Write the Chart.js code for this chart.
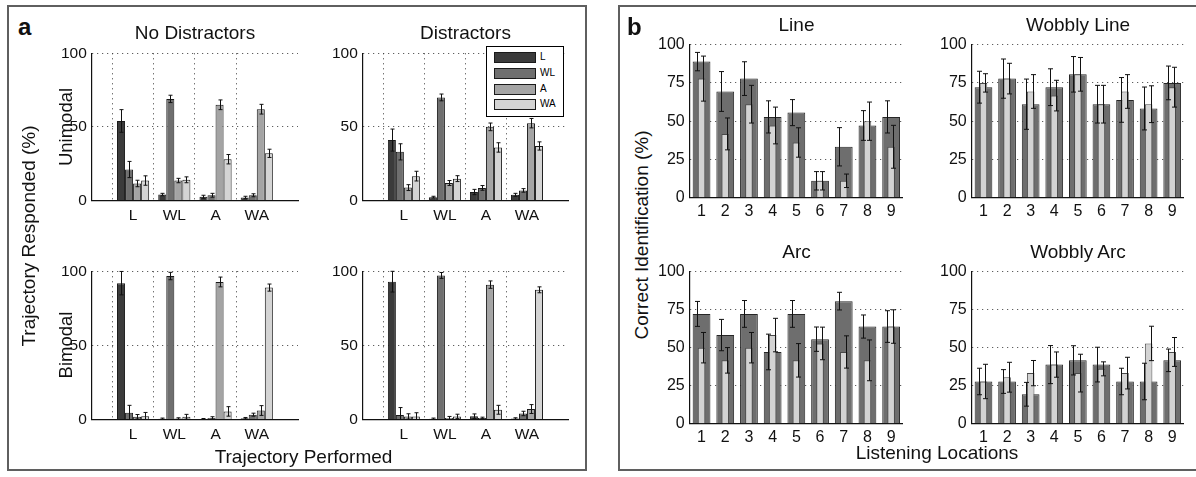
<!DOCTYPE html>
<html><head><meta charset="utf-8">
<script src="https://cdn.jsdelivr.net/npm/chart.js@4.4.1/dist/chart.umd.min.js"></script>
<style>
html,body{margin:0;padding:0;background:#fff;}
body{width:1196px;height:477px;position:relative;overflow:hidden;font-family:'Liberation Sans',Arial,sans-serif;color:#111;}
.panel{position:absolute;border:2px solid #5f5f5f;box-sizing:border-box;}
.t{position:absolute;white-space:nowrap;line-height:1;transform:translateX(-50%);}
.r{position:absolute;white-space:nowrap;line-height:1;transform:translate(-50%,-50%) rotate(-90deg);}
canvas{position:absolute;}
.legend{position:absolute;left:486px;top:46px;width:78px;height:71px;border:1.5px solid #000;background:#fff;box-sizing:border-box;z-index:5;}
.legend .sw{position:absolute;left:7px;width:42px;height:11px;border:1px solid #1a1a1a;box-sizing:border-box;}
.legend .lb{position:absolute;left:53px;font-size:10px;line-height:1;color:#000;}
</style></head><body>
<div class="panel" style="left:7px;top:5px;width:580px;height:466px;"></div>
<div class="panel" style="left:618px;top:5px;width:582px;height:466px;"></div>
<script>
// ---------------- DATA ----------------
const trajCats = ['L', 'WL', 'A', 'WA'];
// Panel a: each array = share responded as that trajectory, over performed L, WL, A, WA
// Unimodal, No Distractors
const uniNoL   = [54, 4, 2.5, 2];
const uniNoWL  = [21, 69, 3.5, 3.5];
const uniNoA   = [11.5, 13.5, 65, 62];
const uniNoWA  = [13.5, 14, 28, 32];
const uniNoLErr  = [7.7, 0.8, 1, 0.8];
const uniNoWLErr = [5.5, 2.5, 1.3, 1];
const uniNoAErr  = [2.2, 1.5, 3.3, 3.3];
const uniNoWAErr = [3.2, 2, 3.2, 2.8];
// Unimodal, Distractors
const uniDiL   = [41, 2.2, 5.7, 3.8];
const uniDiWL  = [33, 70, 8.5, 6.8];
const uniDiA   = [8.7, 11.8, 50, 52.5];
const uniDiWA  = [16.5, 14.8, 36, 37];
const uniDiLErr  = [7.5, 0.6, 1.8, 1];
const uniDiWLErr = [5.5, 2.3, 1.6, 1.2];
const uniDiAErr  = [2, 1.7, 2.6, 3.2];
const uniDiWAErr = [3.3, 2, 3.2, 2.8];
// Bimodal, No Distractors
const biNoL   = [92, 0.5, 0.3, 0.8];
const biNoWL  = [4.5, 96.8, 1, 3.2];
const biNoA   = [1.8, 0.6, 92.8, 6];
const biNoWA  = [2.2, 1.8, 5.4, 89];
const biNoLErr  = [7.9, 0.4, 0.3, 0.5];
const biNoWLErr = [5, 2.5, 0.8, 1];
const biNoAErr  = [1.5, 0.5, 3.3, 3.3];
const biNoWAErr = [2.5, 1.6, 3.2, 2.4];
// Bimodal, Distractors
const biDiL   = [93, 0.5, 2.2, 0.6];
const biDiWL  = [3, 97.2, 1, 4];
const biDiA   = [2, 1, 91, 7];
const biDiWA  = [2, 2, 6.5, 87.5];
const biDiLErr  = [7, 0.4, 1.5, 0.5];
const biDiWLErr = [5, 2, 0.5, 1.5];
const biDiAErr  = [1.8, 1, 2.5, 3];
const biDiWAErr = [2.5, 1.5, 3, 2];

// Panel b: listening locations 1..9
const locations = ['1', '2', '3', '4', '5', '6', '7', '8', '9'];
const lineDark     = [88.9, 69.4, 77.8, 52.8, 55.6, 11.1, 33.3, 47.2, 52.8];
const lineDarkErr  = [6, 13, 11, 10.5, 8.5, 6, 12.5, 9.7, 10.5];
const lineLight    = [77.8, 41.7, 61.1, 47.2, 36.1, 11.1, 11.1, 50, 33.3];
const lineLightErr = [14.7, 10.4, 12.3, 12, 9.6, 6, 4.4, 12.5, 14];
const wlDark     = [72.2, 77.8, 61.1, 72.2, 80.6, 61.1, 63.9, 58.3, 75];
const wlDarkErr  = [10.4, 12.8, 16.4, 12, 11.6, 12.3, 14.6, 14, 11];
const wlLight    = [75, 77.8, 69.4, 66.7, 80.6, 61.1, 69.4, 61.1, 72.2];
const wlLightErr = [6, 10, 11, 10, 11, 12.3, 11, 12, 13];
const arcDark     = [72.2, 58.3, 72.2, 47.2, 72.2, 55.6, 80.6, 63.9, 63.9];
const arcDarkErr  = [8.2, 10.3, 8.8, 11.7, 8.8, 8, 5.8, 7.6, 10.4];
const arcLight    = [50, 41.7, 50, 58.3, 41.7, 52.8, 47.2, 41.7, 63.9];
const arcLightErr = [10, 8.4, 10, 11, 11, 10.7, 10.6, 13.4, 11];
const waDark     = [27.8, 27.8, 19.4, 38.9, 41.7, 38.9, 27.8, 27.8, 41.7];
const waDarkErr  = [8.7, 7.8, 7.8, 12.5, 9.6, 11.4, 8.7, 12, 7.4];
const waLight    = [27.8, 30.6, 33.3, 38.9, 33.3, 36.1, 33.3, 52.8, 47.2];
const waLightErr = [11.3, 9.8, 8.3, 8.3, 12.4, 4.6, 10.4, 11.3, 9.5];

// ---------------- STYLE ----------------
const FONT = "'Liberation Sans', Arial, sans-serif";
const trajColors = ['#3b3b3b', '#6f6f6f', '#a4a4a4', '#d4d4d4'];
const GRID = '#3a3a3a';
Chart.defaults.font.family = FONT;
Chart.defaults.color = '#111';

const errPlugin = {
  id: 'errbars',
  afterDatasetsDraw(chart, args, opts) {
    const ctx = chart.ctx, xs = chart.scales.x, ys = chart.scales.y;
    const step = xs.getPixelForValue(1) - xs.getPixelForValue(0);
    const cap = opts.cap || 2;
    ctx.save();
    ctx.strokeStyle = '#111';
    ctx.lineWidth = 1;
    chart.data.datasets.forEach((ds, di) => {
      if (!ds.errors) return;
      const meta = chart.getDatasetMeta(di);
      meta.data.forEach((bar, i) => {
        const v = ds.data[i], e = ds.errors[i];
        if (v == null || e == null) return;
        const x = Math.round(bar.x + (ds.errOffset || 0) * step) + 0.5;
        const y1 = ys.getPixelForValue(Math.max(0, v - e));
        const y2 = ys.getPixelForValue(Math.min(100, v + e));
        ctx.beginPath();
        ctx.moveTo(x, y1); ctx.lineTo(x, y2);
        ctx.moveTo(x - cap, y2); ctx.lineTo(x + cap, y2);
        if (v - e > 0) { ctx.moveTo(x - cap, y1); ctx.lineTo(x + cap, y1); }
        ctx.stroke();
      });
    });
    ctx.restore();
  }
};

function cfgA(series, errs) {
  return () => ({
    type: 'bar',
    data: {
      labels: ['', ...trajCats, ''],
      datasets: series.map((s, k) => ({
        data: [null, ...s, null],
        errors: [null, ...errs[k], null],
        backgroundColor: trajColors[k],
        borderColor: '#1a1a1a',
        borderWidth: 1,
        barPercentage: 1,
        categoryPercentage: 0.78
      }))
    },
    options: {
      responsive: false, animation: false, devicePixelRatio: 1,
      layout: { padding: 0 },
      plugins: { legend: { display: false }, tooltip: { enabled: false }, errbars: { cap: 2 } },
      scales: {
        x: {
          offset: false,
          grid: { color: c => (c.index >= 1 && c.index <= 4) ? GRID : 'rgba(0,0,0,0)', drawTicks: false, lineWidth: 1 },
          border: { display: true, color: '#111', width: 1.2, dash: [1, 4] },
          ticks: { padding: 6, autoSkip: false, maxRotation: 0, minRotation: 0, color: '#111', font: { size: 15.5 } }
        },
        y: {
          min: 0, max: 100,
          grid: { color: c => c.tick.value === 0 ? 'rgba(0,0,0,0)' : GRID, drawTicks: false, lineWidth: 1 },
          border: { display: true, color: '#111', width: 1.2, dash: [1, 4] },
          ticks: { stepSize: 50, padding: 5, color: '#111', font: { size: 15.5 } }
        }
      }
    },
    plugins: [errPlugin]
  });
}

function cfgB(dark, darkErr, light, lightErr) {
  return () => ({
    type: 'bar',
    data: {
      labels: locations,
      datasets: [
        { data: light, errors: lightErr, errOffset: 0.08, backgroundColor: '#d3d3d3', borderColor: '#4a4a4a',
          borderWidth: 1, barPercentage: 0.32, categoryPercentage: 1, grouped: false, order: 0 },
        { data: dark, errors: darkErr, errOffset: -0.19, backgroundColor: '#6e6e6e', borderColor: '#262626',
          borderWidth: 1, barPercentage: 0.75, categoryPercentage: 1, grouped: false, order: 1 }
      ]
    },
    options: {
      responsive: false, animation: false, devicePixelRatio: 1,
      layout: { padding: 0 },
      plugins: { legend: { display: false }, tooltip: { enabled: false }, errbars: { cap: 2.5 } },
      scales: {
        x: {
          grid: { display: false, drawTicks: false },
          border: { display: true, color: '#111', width: 1.2 },
          ticks: { padding: 4, autoSkip: false, maxRotation: 0, minRotation: 0, color: '#111', font: { size: 16 } }
        },
        y: {
          min: 0, max: 100,
          grid: { color: c => c.tick.value === 0 ? 'rgba(0,0,0,0)' : GRID, drawTicks: false, lineWidth: 1 },
          border: { display: true, color: '#111', width: 1.2, dash: [1, 4] },
          ticks: { stepSize: 25, padding: 5, color: '#111', font: { size: 16 } }
        }
      }
    },
    plugins: [errPlugin]
  });
}

function place(area, makeCfg) {
  function build(w, h) {
    const cv = document.createElement('canvas');
    cv.width = w; cv.height = h;
    cv.style.width = w + 'px'; cv.style.height = h + 'px';
    cv.style.left = '0px'; cv.style.top = '0px';
    document.body.appendChild(cv);
    return { cv, ch: new Chart(cv, makeCfg()) };
  }
  let w = area.w + 70, h = area.h + 50;
  let r = build(w, h);
  let ca = r.ch.chartArea;
  const w2 = Math.round(w + (area.w - (ca.right - ca.left)));
  const h2 = Math.round(h + (area.h - (ca.bottom - ca.top)));
  r.ch.destroy(); r.cv.remove();
  r = build(w2, h2);
  ca = r.ch.chartArea;
  r.cv.style.left = (area.x - ca.left) + 'px';
  r.cv.style.top = (area.y - ca.top) + 'px';
}

// Panel a
place({ x: 92, y: 53, w: 206, h: 147 }, cfgA([uniNoL, uniNoWL, uniNoA, uniNoWA], [uniNoLErr, uniNoWLErr, uniNoAErr, uniNoWAErr]));
place({ x: 363, y: 53, w: 205, h: 147 }, cfgA([uniDiL, uniDiWL, uniDiA, uniDiWA], [uniDiLErr, uniDiWLErr, uniDiAErr, uniDiWAErr]));
place({ x: 92, y: 271, w: 206, h: 148 }, cfgA([biNoL, biNoWL, biNoA, biNoWA], [biNoLErr, biNoWLErr, biNoAErr, biNoWAErr]));
place({ x: 363, y: 271, w: 205, h: 148 }, cfgA([biDiL, biDiWL, biDiA, biDiWA], [biDiLErr, biDiWLErr, biDiAErr, biDiWAErr]));
// Panel b
place({ x: 690, y: 45, w: 213, h: 153 }, cfgB(lineDark, lineDarkErr, lineLight, lineLightErr));
place({ x: 972, y: 45, w: 212, h: 153 }, cfgB(wlDark, wlDarkErr, wlLight, wlLightErr));
place({ x: 690, y: 272, w: 213, h: 152 }, cfgB(arcDark, arcDarkErr, arcLight, arcLightErr));
place({ x: 972, y: 272, w: 212, h: 152 }, cfgB(waDark, waDarkErr, waLight, waLightErr));

// ---------------- TEXT ----------------
function txt(s, cx, baseline, size, bold, alignLeft) {
  const d = document.createElement('div');
  d.className = 't';
  d.textContent = s;
  d.style.fontSize = size + 'px';
  if (bold) d.style.fontWeight = 'bold';
  d.style.left = cx + 'px';
  d.style.top = (baseline - 0.8465 * size) + 'px';
  if (alignLeft) d.style.transform = 'none';
  document.body.appendChild(d);
}
function rot(s, cx, cy, size) {
  const d = document.createElement('div');
  d.className = 'r';
  d.textContent = s;
  d.style.fontSize = size + 'px';
  d.style.left = cx + 'px';
  d.style.top = cy + 'px';
  document.body.appendChild(d);
}
txt('a', 18, 35, 24, true, true);
txt('No Distractors', 195, 39, 19);
txt('Distractors', 465.5, 39, 19);
rot('Unimodal', 66, 126.5, 18.5);
rot('Bimodal', 66, 345, 18.5);
rot('Trajectory Responded (%)', 28, 236, 19);
txt('Trajectory Performed', 303.5, 463, 19);

txt('b', 627, 35, 24, true, true);
txt('Line', 796.5, 31, 19);
txt('Wobbly Line', 1078, 31, 19);
txt('Arc', 796.5, 258, 19);
txt('Wobbly Arc', 1078, 258, 19);
rot('Correct Identification (%)', 641, 234.5, 19);
txt('Listening Locations', 937, 459, 19);

// Legend
const lg = document.createElement('div');
lg.className = 'legend';
const rowsY = [11, 27, 43, 58];
trajCats.forEach((c, k) => {
  const sw = document.createElement('div');
  sw.className = 'sw';
  sw.style.top = (rowsY[k] - 6.5) + 'px';
  sw.style.background = trajColors[k];
  lg.appendChild(sw);
  const lb = document.createElement('div');
  lb.className = 'lb';
  lb.style.top = (rowsY[k] - 6.5) + 'px';
  lb.textContent = c;
  lg.appendChild(lb);
});
document.body.appendChild(lg);
</script>
</body></html>
